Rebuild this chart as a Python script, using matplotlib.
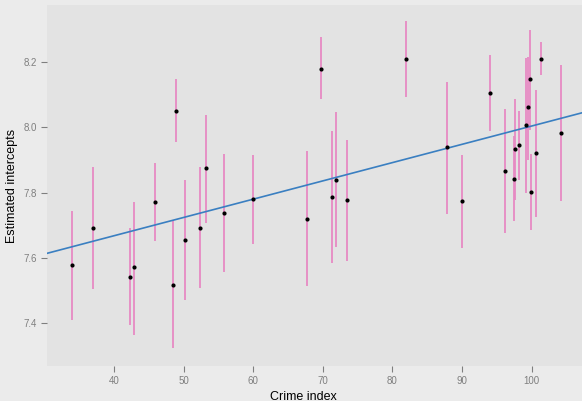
import matplotlib
matplotlib.use("Agg")
import matplotlib.pyplot as plt

crime = [33.93, 37.03, 42.3, 42.82, 45.88, 48.42, 48.85, 50.14, 52.30, 53.24, 55.8, 59.94,
         67.79, 69.78, 71.28, 71.85, 73.53, 81.89, 87.86, 89.97, 93.99, 96.14, 97.44, 97.54,
         98.16, 99.17, 99.45, 99.74, 99.88, 100.6, 101.3, 104.2]
estimate = [7.577, 7.693, 7.543, 7.571, 7.772, 7.518, 8.051, 7.656, 7.693, 7.874, 7.739, 7.779,
            7.720, 8.180, 7.788, 7.840, 7.776, 8.210, 7.939, 7.773, 8.104, 7.867, 7.843, 7.933,
            7.945, 8.006, 8.061, 8.147, 7.801, 7.920, 8.210, 7.984]
lower = [7.409, 7.505, 7.394, 7.365, 7.653, 7.323, 7.956, 7.470, 7.509, 7.708, 7.557, 7.643,
         7.513, 8.088, 7.585, 7.633, 7.590, 8.094, 7.735, 7.629, 7.988, 7.677, 7.712, 7.778,
         7.838, 7.799, 7.901, 7.993, 7.685, 7.724, 8.159, 7.773]
upper = [7.745, 7.878, 7.692, 7.772, 7.891, 7.715, 8.149, 7.840, 7.878, 8.038, 7.919, 7.916,
         7.927, 8.275, 7.988, 8.047, 7.962, 8.327, 8.139, 7.916, 8.220, 8.057, 7.972, 8.088,
         8.049, 8.212, 8.216, 8.298, 7.918, 8.114, 8.261, 8.191]
fit_intercept = 7.444
fit_slope = 0.0056

xticks = [40, 50, 60, 70, 80, 90, 100]
yticks = [7.4, 7.6, 7.8, 8.0, 8.2]

plt.rcParams['font.family'] = ['Liberation Sans', 'DejaVu Sans']

fig = plt.figure(figsize=(5.82, 4.01), dpi=100, facecolor='#EBEBEB')
ax = fig.add_axes([47/582, 1 - 366/401, 1 - 47/582, (366 - 5)/401])
ax.set_facecolor('#E3E3E3')

ax.vlines(crime, lower, upper, color='#E78AC3', linewidth=1.3, zorder=2)
ax.axline((0, fit_intercept), slope=fit_slope, color='#3A7FC1', linewidth=1.2, zorder=3)
ax.scatter(crime, estimate, s=9, color='black', zorder=4, linewidths=0)

ax.set_xlim(30.38, 107.22)
ax.set_ylim(7.2692, 8.3745)
ax.set_xticks(xticks)
ax.set_xticklabels([str(v) for v in xticks])
ax.set_yticks(yticks)
ax.set_yticklabels([f"{v:.1f}" for v in yticks])

for s in ax.spines.values():
    s.set_visible(False)
ax.tick_params(axis='both', colors='#7F7F7F', labelcolor='#7F7F7F', length=4.5, width=0.8,
               labelsize=7, pad=3)

ax.set_xlabel('Crime index', fontsize=9, color='black', labelpad=1)
ax.xaxis.set_label_coords(0.48, -0.068)
ax.set_ylabel('Estimated intercepts', fontsize=9, color='black')
ax.yaxis.set_label_coords(-0.0542, 0.5)

fig.savefig('out.png', dpi=100, facecolor=fig.get_facecolor())
